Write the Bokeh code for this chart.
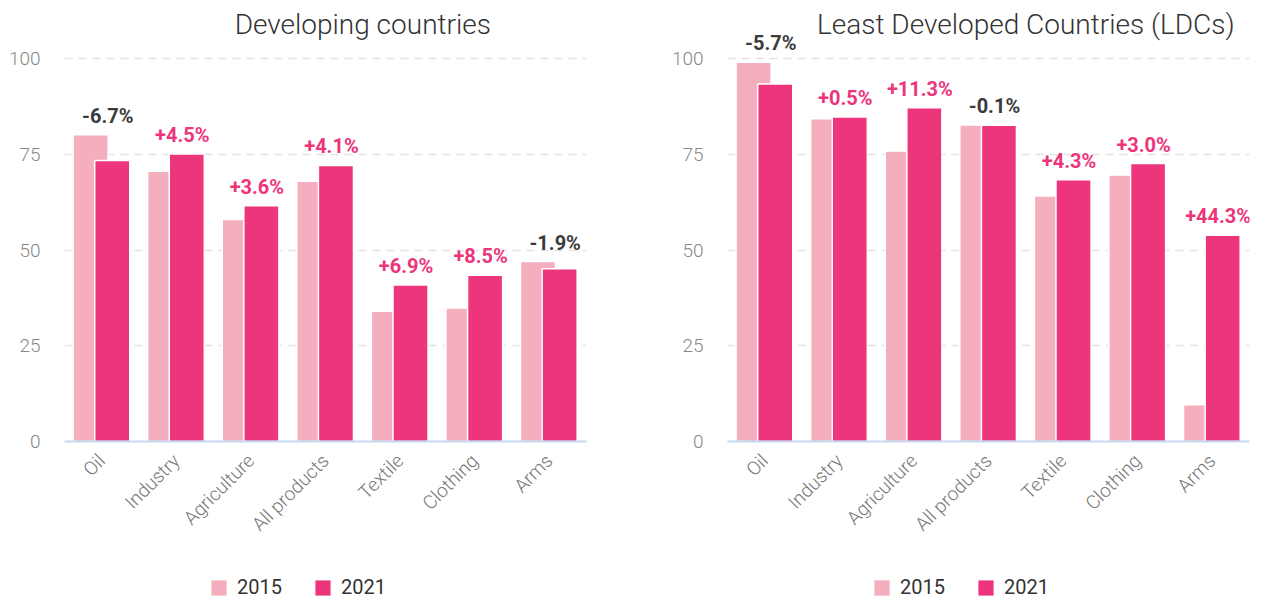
from bokeh.plotting import figure
from bokeh.models import ColumnDataSource, Range1d, FixedTicker, Legend, LegendItem, Label
from bokeh.layouts import row, column
from bokeh.transform import dodge
from bokeh.core.properties import value
from bokeh.embed import file_html
from bokeh.resources import INLINE

categories = ["Oil", "Industry", "Agriculture", "All products", "Textile", "Clothing", "Arms"]
years = ["2015", "2021"]

dev_2015 = [80.1, 70.6, 58.0, 68.0, 34.0, 34.9, 47.0]
dev_2021 = [73.4, 75.1, 61.6, 72.1, 40.9, 43.4, 45.1]
dev_labels = ["-6.7%", "+4.5%", "+3.6%", "+4.1%", "+6.9%", "+8.5%", "-1.9%"]

ldc_2015 = [99.1, 84.3, 75.9, 82.7, 64.1, 69.6, 9.6]
ldc_2021 = [93.4, 84.8, 87.2, 82.6, 68.4, 72.6, 53.9]
ldc_labels = ["-5.7%", "+0.5%", "+11.3%", "-0.1%", "+4.3%", "+3.0%", "+44.3%"]

titles = ["Developing countries", "Least Developed Countries (LDCs)"]
y_ticks = [0, 25, 50, 75, 100]

C15 = "#F4AEBD"
C21 = "#EC357B"
NEG = "#3b3b3b"
FONT = "Roboto"
LIGHT = "Roboto Light, Roboto"

MAIN_H = 566
LEG_H = 36


def make(title, v15, v21, labels, left_border, right_border):
    n = len(categories)
    xs = [i + 0.5 for i in range(n)]
    src = ColumnDataSource(dict(
        x=xs, v15=v15, v21=v21,
        top=[max(a, b) for a, b in zip(v15, v21)],
        lab=labels,
        col=[NEG if l.startswith("-") else C21 for l in labels],
    ))
    p = figure(width=left_border + 522 + right_border, height=MAIN_H,
               frame_width=522, frame_height=441,
               x_range=Range1d(0, n), y_range=Range1d(0, 115.2),
               output_backend="svg", toolbar_location=None,
               min_border_left=left_border, min_border_right=right_border,
               min_border_top=0, min_border_bottom=MAIN_H - 441)
    p.outline_line_color = None
    p.background_fill_color = "white"
    p.border_fill_color = "white"

    p.vbar(x=dodge("x", -0.15), top="v15", width=0.47, source=src,
           fill_color=C15, line_color="white", line_width=1.5)
    p.vbar(x=dodge("x", 0.14), top="v21", width=0.47, source=src,
           fill_color=C21, line_color="white", line_width=1.5)

    p.text(x=dodge("x", 0.08), y="top", text="lab", source=src,
           text_color="col", text_font=value(FONT), text_font_style="bold",
           text_font_size="20px", text_align="center",
           text_baseline="alphabetic", y_offset=-19)

    p.add_layout(Label(x=4.0, y=109.0, text=title, text_font=LIGHT,
                       text_font_size="28px", text_color="#333333",
                       text_align="center", text_baseline="alphabetic"))

    # axes
    p.xaxis.ticker = FixedTicker(ticks=xs)
    p.xaxis.major_label_overrides = {x: c for x, c in zip(xs, categories)}
    p.xaxis.major_label_orientation = 0.785398
    p.xaxis.major_label_text_font = LIGHT
    p.xaxis.major_label_text_font_size = "19px"
    p.xaxis.major_label_text_color = "#777777"
    p.xaxis.major_tick_line_color = None
    p.xaxis.major_tick_out = 0
    p.xaxis.major_tick_in = 0
    p.xaxis.minor_tick_line_color = None
    p.xaxis.axis_line_color = "#C5DAEE"
    p.xaxis.axis_line_width = 2
    p.xaxis.major_label_standoff = 16

    p.yaxis.ticker = FixedTicker(ticks=y_ticks)
    p.yaxis.major_label_text_font = LIGHT
    p.yaxis.major_label_text_font_size = "19px"
    p.yaxis.major_label_text_color = "#888888"
    p.yaxis.major_tick_line_color = None
    p.yaxis.major_tick_out = 0
    p.yaxis.major_tick_in = 0
    p.yaxis.minor_tick_line_color = None
    p.yaxis.axis_line_color = None
    p.yaxis.major_label_standoff = 24

    p.xgrid.grid_line_color = None
    p.ygrid.ticker = FixedTicker(ticks=y_ticks[1:])
    p.ygrid.grid_line_color = "#E3E3E3"
    p.ygrid.grid_line_width = 1.5
    p.ygrid.grid_line_dash = "8 6"
    return p


def make_legend(width, x_pos):
    lf = figure(width=width, height=LEG_H, frame_width=width, frame_height=LEG_H,
                x_range=Range1d(0, 1), y_range=Range1d(0, 1),
                x_axis_location=None, y_axis_location=None,
                output_backend="svg", toolbar_location=None,
                min_border=0)
    lf.outline_line_color = None
    lf.grid.visible = False
    # legend-only swatches, placed outside the visible range
    e = ColumnDataSource(dict(x=[-10.0], top=[-10.0]))
    a = lf.vbar(x="x", top="top", width=0.5, source=e,
                fill_color=C15, line_color=None)
    b = lf.vbar(x="x", top="top", width=0.5, source=e,
                fill_color=C21, line_color=None)
    legend = Legend(items=[LegendItem(label=years[0], renderers=[a]),
                           LegendItem(label=years[1], renderers=[b])],
                    orientation="horizontal", location=(x_pos, 3),
                    glyph_width=19, glyph_height=19, label_standoff=9,
                    spacing=31, padding=0, margin=0,
                    label_text_font=FONT, label_text_font_size="20px",
                    label_text_color="#333333", border_line_color=None,
                    background_fill_alpha=0)
    lf.add_layout(legend, "center")
    return lf


p1 = make(titles[0], dev_2015, dev_2021, dev_labels, 64, 50)
p2 = make(titles[1], ldc_2015, ldc_2021, ldc_labels, 91, 10)
l1 = make_legend(636, 209)
l2 = make_legend(623, 236)
layout = column(row(p1, p2, spacing=0), row(l1, l2, spacing=0), spacing=0)

open("out.html", "w").write(file_html(layout, INLINE))
